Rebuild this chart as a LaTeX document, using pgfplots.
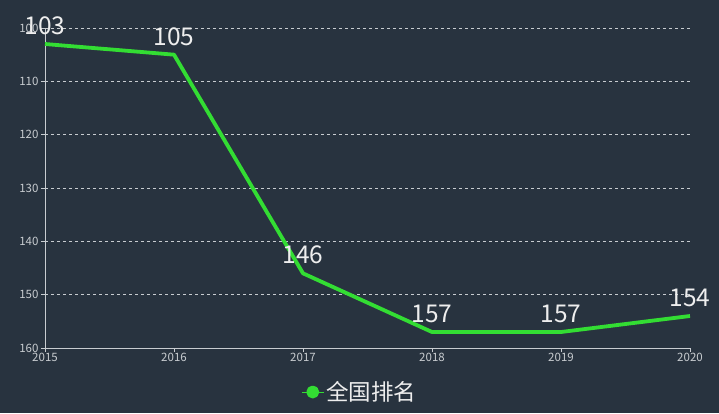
\documentclass[border=0pt]{standalone}
\usepackage{fontspec}
\setmainfont{Noto Sans CJK SC}
\usepackage{pgfplots}
\pgfplotsset{compat=1.18}
\definecolor{bgc}{HTML}{28333F}
\definecolor{linec}{HTML}{33DD33}
\definecolor{axc}{HTML}{C8CCD0}
\definecolor{txt}{HTML}{EEEEEE}
\begin{document}
\begin{tikzpicture}
\fill[bgc] (-45pt,-65pt) rectangle (674pt,348pt);
\begin{axis}[
    at={(0pt,0pt)}, anchor=south west,
    scale only axis, width=645pt, height=320pt,
    xmin=2015, xmax=2020, ymin=100, ymax=160,
    y dir=reverse,
    xtick={2015,2016,2017,2018,2019,2020},
    ytick={100,110,120,130,140,150,160},
    /pgf/number format/1000 sep={},
    /pgf/number format/assume math mode=true,
    axis lines*=left,
    axis line style={axc, line width=0.8pt, -},
    tick align=outside,
    major tick length=4pt,
    tick style={axc, line width=0.8pt},
    ticklabel style={font=\fontsize{11.5}{12}\selectfont, text=axc},
    xticklabel style={yshift=2pt},
    yticklabel style={xshift=1pt},
    ymajorgrids,
    grid style={axc, dashed, line width=0.5pt},
    clip=false,
    legend style={at={(0.488,-0.1375)}, anchor=center, draw=none, fill=none,
        text=txt, font=\fontsize{22.5}{26}\selectfont},
    legend image code/.code={
        \draw[linec, line width=1pt] (0pt,0pt) -- (22pt,0pt);
        \fill[linec] (11pt,0pt) circle (4.5pt);
    },
]
\addplot[linec, line width=3.8pt, line join=round,
    nodes near coords,
    every node near coord/.append style={text=txt, font=\fontsize{24.5}{28}\selectfont, anchor=south, yshift=4pt},
    ] coordinates {
    (2015,103) (2016,105) (2017,146) (2018,157) (2019,157) (2020,154)
};
\addlegendentry{全国排名}
\end{axis}
\pgfresetboundingbox
\path[use as bounding box] (-45pt,-65pt) rectangle (674pt,348pt);
\end{tikzpicture}
\end{document}
